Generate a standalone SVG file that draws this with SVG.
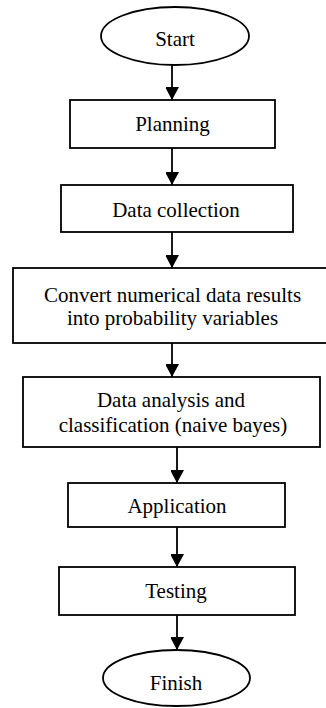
<svg xmlns="http://www.w3.org/2000/svg" width="326" height="708" viewBox="0 0 326 708">
  <style>
    .shape { fill: #ffffff; stroke: #000000; stroke-width: 1.8; }
    .label { font-size: 21px; fill: #000000; text-anchor: middle; }
    .flow { stroke: #000000; stroke-width: 1.8; fill: none; marker-end: url(#head); }
  </style>
  <defs>
    <marker id="head" markerUnits="userSpaceOnUse" markerWidth="14" markerHeight="13" refX="13" refY="7" orient="auto">
      <path d="M0,0 L13,7 L0,14 Z" fill="#000000"/>
    </marker>
  </defs>
  <rect width="326" height="708" fill="#ffffff"/>

  <!-- connectors -->
  <g id="connectors">
    <line class="flow" x1="172" y1="65" x2="172" y2="100"/>
    <line class="flow" x1="172" y1="148" x2="172" y2="185"/>
    <line class="flow" x1="172" y1="232" x2="172" y2="268"/>
    <line class="flow" x1="172" y1="343" x2="172" y2="377"/>
    <line class="flow" x1="177" y1="447" x2="177" y2="483"/>
    <line class="flow" x1="177" y1="527" x2="177" y2="567"/>
    <line class="flow" x1="177" y1="615" x2="177" y2="650"/>
  </g>

  <g id="nodes" font-family="'Liberation Serif', 'DejaVu Serif', serif">
    <g id="start">
      <ellipse class="shape" cx="175" cy="36" rx="74" ry="29"/>
      <text class="label" x="175" y="46">Start</text>
    </g>

    <g id="planning">
      <rect class="shape" x="70" y="100" width="205" height="48"/>
      <text class="label" x="172.5" y="131">Planning</text>
    </g>

    <g id="data-collection">
      <rect class="shape" x="61" y="185" width="232" height="47"/>
      <text class="label" x="176" y="216.5">Data collection</text>
    </g>

    <g id="convert">
      <rect class="shape" x="13" y="268" width="316" height="75"/>
      <text class="label" x="172.5" y="302">Convert numerical data results</text>
      <text class="label" x="172.5" y="325">into probability variables</text>
    </g>

    <g id="analysis">
      <rect class="shape" x="23" y="377" width="297" height="70"/>
      <text class="label" x="171" y="407">Data analysis and</text>
      <text class="label" x="173" y="432">classification (naive bayes)</text>
    </g>

    <g id="application">
      <rect class="shape" x="68" y="483" width="217" height="44"/>
      <text class="label" x="177" y="513">Application</text>
    </g>

    <g id="testing">
      <rect class="shape" x="59" y="567" width="236" height="48"/>
      <text class="label" x="176" y="598">Testing</text>
    </g>

    <g id="finish">
      <ellipse class="shape" cx="176.5" cy="678" rx="73.5" ry="28"/>
      <text class="label" x="176" y="690">Finish</text>
    </g>
  </g>
</svg>
